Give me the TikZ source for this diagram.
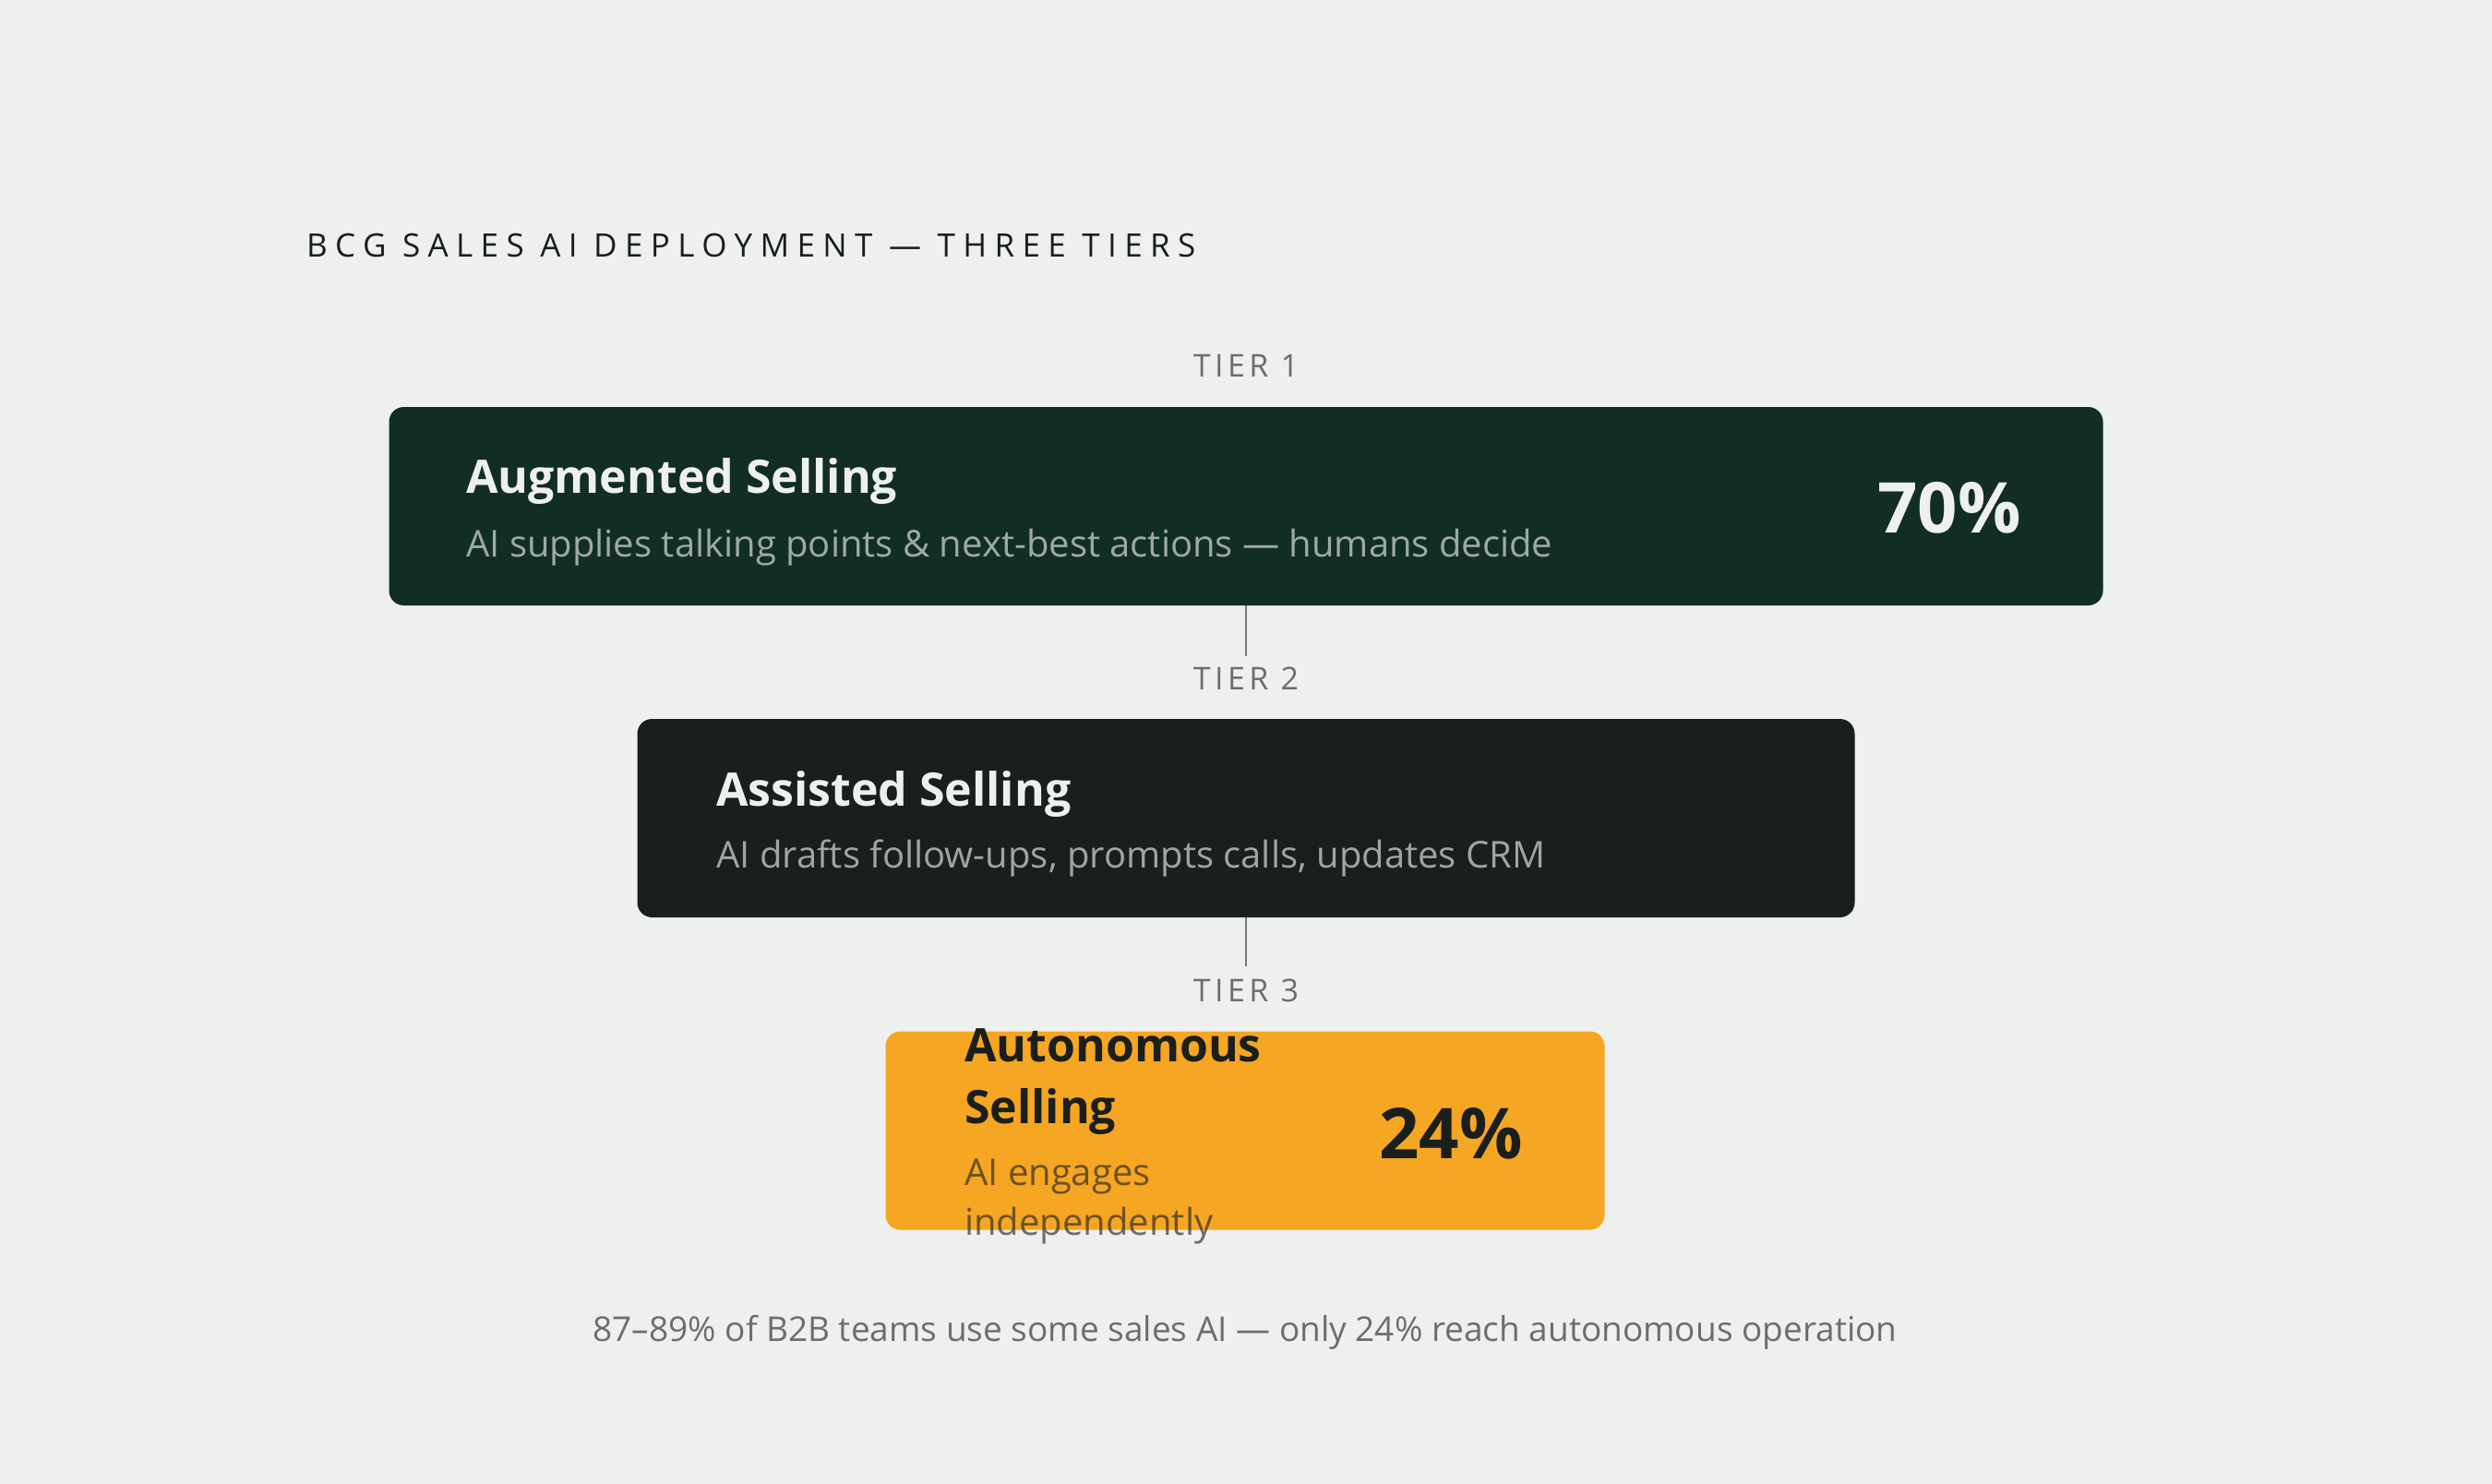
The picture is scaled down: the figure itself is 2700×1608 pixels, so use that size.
\documentclass[tikz,border=0pt]{standalone}
\usepackage{fontspec}
\setmainfont{Open Sans}
\newfontfamily\headfont[LetterSpace=24]{Open Sans}
\newfontfamily\tierfont[LetterSpace=13]{Open Sans}
\usetikzlibrary{positioning,calc}

\definecolor{bgcol}{HTML}{EEF0ED}
\definecolor{augcol}{HTML}{122C26}
\definecolor{asscol}{HTML}{1B1F1C}
\definecolor{autcol}{HTML}{F5A623}
\definecolor{inkcol}{HTML}{1B1F1C}
\definecolor{greycol}{HTML}{6B6E6B}
\definecolor{linecol}{HTML}{777A77}

\begin{document}
\begin{tikzpicture}[
    x=1pt, y=-1pt,
    tierbox/.style={rectangle, rounded corners=16pt, inner sep=0pt, minimum height=215pt, minimum width=#1},
    label/.style={inner sep=0pt, anchor=base west},
    tiername/.style={inner sep=11pt, anchor=base, font=\tierfont\fontsize{34}{40}\selectfont, text=greycol},
    boxtitle/.style={label, font=\bfseries\fontsize{50}{60}\selectfont},
    boxsub/.style={label, font=\fontsize{40}{46}\selectfont},
    share/.style={inner sep=0pt, anchor=base east, font=\bfseries\fontsize{76}{80}\selectfont},
    conn/.style={draw=linecol, line width=2pt},
    ]
    \useasboundingbox[fill=bgcol] (0,0) rectangle (2700,1608);

    % heading
    \node[label, font=\headfont\fontsize{35}{40}\selectfont, text=inkcol] (head) at (332,278)
        {BCG SALES AI DEPLOYMENT — THREE TIERS};

    % tier boxes
    \node[tierbox=1857pt, fill=augcol] (aug) at (1350,548.5) {};
    \node[tierbox=1319pt, fill=asscol] (ass) at (1350,886.5) {};
    \node[tierbox=779pt,  fill=autcol] (aut) at (1349,1225) {};

    % tier labels
    \node[tiername] (t1) at (1350,408)  {TIER 1};
    \node[tiername] (t2) at (1350,747)  {TIER 2};
    \node[tiername, inner sep=13pt] (t3) at (1350,1085) {TIER 3};

    % tier 1 text
    \node[boxtitle, text=bgcol] (aug_t) at (505,534) {Augmented Selling};
    \node[boxsub, text=bgcol, text opacity=0.64] (aug_s) at (505,603)
        {AI supplies talking points \& next-best actions — humans decide};
    \node[share, text=bgcol] (aug_p) at (2190,577) {70\%};

    % tier 2 text
    \node[boxtitle, text=bgcol] (ass_t) at (776,873) {Assisted Selling};
    \node[boxsub, text=bgcol, text opacity=0.64] (ass_s) at (776,940)
        {AI drafts follow-ups, prompts calls, updates CRM};

    % tier 3 text
    \node[boxtitle, text=inkcol] (aut_t1) at (1045,1150) {Autonomous};
    \node[boxtitle, text=inkcol] (aut_t2) at (1045,1217) {Selling};
    \node[boxsub, text=inkcol, text opacity=0.62] (aut_s1) at (1045,1284) {AI engages};
    \node[boxsub, text=inkcol, text opacity=0.62] (aut_s2) at (1045,1338) {independently};
    \node[share, text=inkcol] (aut_p) at (1650,1255) {24\%};

    % connectors
    \draw[conn] (aug.south) -- (aug.south |- t2.north);
    \draw[conn] (ass.south) -- (ass.south |- t3.north);

    % footnote
    \node[inner sep=0pt, anchor=base, font=\fontsize{37}{42}\selectfont, text=greycol] (foot) at (1349,1453)
        {87–89\% of B2B teams use some sales AI — only 24\% reach autonomous operation};
\end{tikzpicture}
\end{document}
